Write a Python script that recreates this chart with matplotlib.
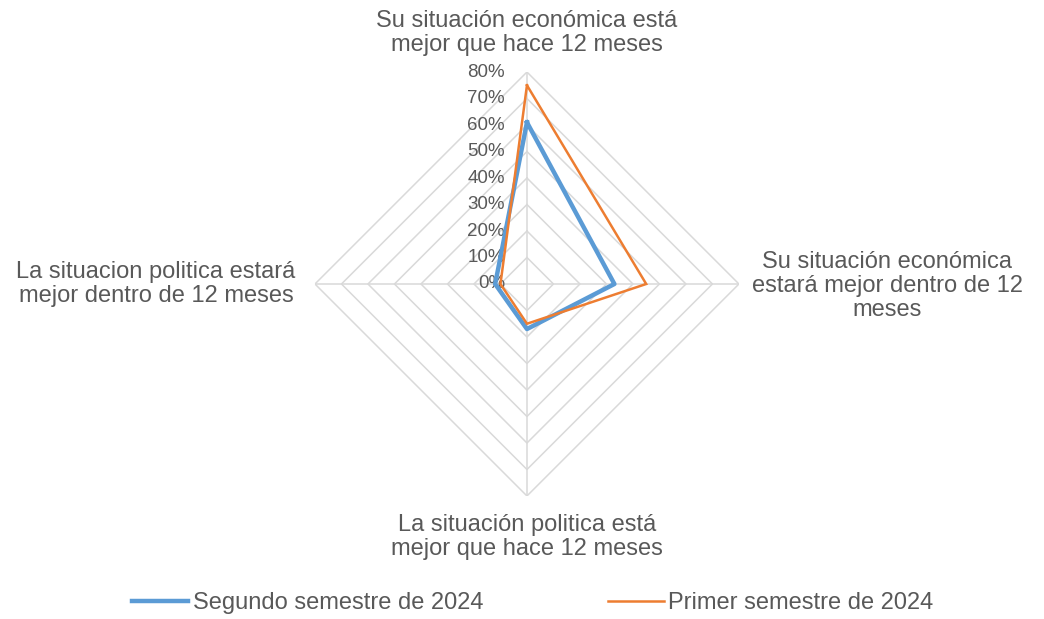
import matplotlib

matplotlib.use("Agg")
import matplotlib.pyplot as plt
import matplotlib.transforms as mtransforms
import numpy as np

plt.rcParams["font.family"] = ["Liberation Sans", "DejaVu Sans"]

# radar categories, clockwise from the top
categories = [
    "Su situación económica está\nmejor que hace 12 meses",
    "Su situación económica\nestará mejor dentro de 12\nmeses",
    "La situación politica está\nmejor que hace 12 meses",
    "La situacion politica estará\nmejor dentro de 12 meses",
]
series_names = ["Segundo semestre de 2024", "Primer semestre de 2024"]
segundo_2024 = [0.61, 0.33, 0.17, 0.12]
primer_2024 = [0.75, 0.45, 0.15, 0.10]
levels = [0.1, 0.2, 0.3, 0.4, 0.5, 0.6, 0.7, 0.8]
level_labels = ["0%", "10%", "20%", "30%", "40%", "50%", "60%", "70%", "80%"]

BLUE = "#5B9BD5"
ORANGE = "#ED7D31"
GRID = "#D9D9D9"
TEXT = "#595959"
W, H = 1044, 619

fig = plt.figure(figsize=(W / 100, H / 100), dpi=100)
ax = fig.add_axes([0.3017, 0.1987, 0.4061, 0.685], projection="polar")
ax.set_theta_zero_location("N")
ax.set_theta_direction(-1)
ax.set_ylim(0, 0.8)
ax.grid(False)
ax.set_xticks([])
ax.set_yticks([])
ax.spines["polar"].set_visible(False)

theta = np.deg2rad(np.arange(len(categories)) * 90.0)
theta_closed = np.append(theta, theta[0])


def closed(vals):
    return np.append(vals, vals[0])


# diamond gridlines and spokes
for lv in levels:
    ax.plot(theta_closed, [lv] * len(theta_closed), color=GRID, lw=1.1, zorder=1)
for t in theta:
    ax.plot([t, t], [0, levels[-1]], color=GRID, lw=1.1, zorder=1)

ax.plot(theta_closed, closed(segundo_2024), color=BLUE, lw=3.2,
        solid_joinstyle="round", zorder=3, label=series_names[0])
ax.plot(theta_closed, closed(primer_2024), color=ORANGE, lw=1.8,
        solid_joinstyle="miter", zorder=4, label=series_names[1])

# radial value labels along the top spoke
offset = mtransforms.offset_copy(ax.transData, fig=fig, x=-22, y=0, units="dots")
for i, lab in enumerate(level_labels):
    ax.text(0, i * 0.1, lab, transform=offset, ha="right", va="center",
            fontsize=13.5, color=TEXT, zorder=2)

# category labels (pixel centres)
label_pos = [(527, 33), (887, 286), (527, 537), (156, 284)]
for text, (px, py) in zip(categories, label_pos):
    fig.text(px / W, 1 - py / H, text, ha="center", va="center",
             fontsize=17, color=TEXT, linespacing=1.13)

fig.legend(loc="center", bbox_to_anchor=(533 / W, 1 - 603 / H), ncol=2,
           frameon=False, fontsize=17, handlelength=2.35, handletextpad=0.2,
           columnspacing=5.3, labelcolor=TEXT, borderpad=0, borderaxespad=0)

fig.savefig("out.png", dpi=100)
